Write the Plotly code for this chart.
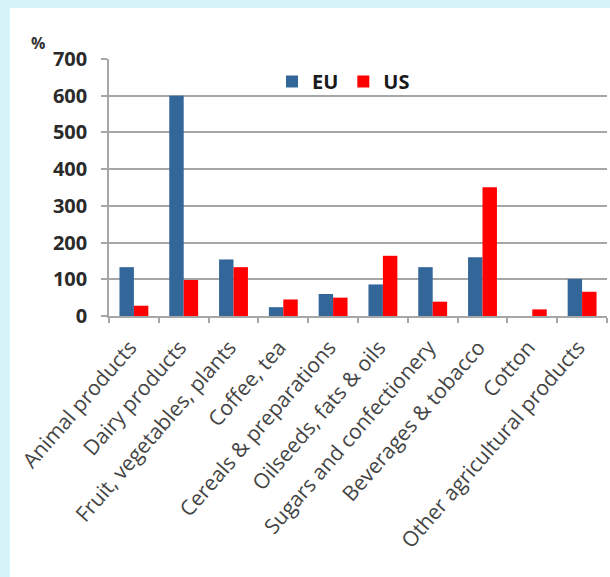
import plotly.graph_objects as go

categories = ["Animal products", "Dairy products", "Fruit, vegetables, plants", "Coffee, tea",
              "Cereals & preparations", "Oilseeds, fats & oils", "Sugars and confectionery",
              "Beverages & tobacco", "Cotton", "Other agricultural products"]
eu_values = [133, 600, 154, 24, 60, 86, 133, 160, 0, 101]
us_values = [28, 98, 133, 45, 50, 164, 39, 351, 18, 66]
y_ticks = [0, 100, 200, 300, 400, 500, 600, 700]

W, H = 610, 577
L, R, T, B = 109, 3, 59, 261
pw, ph = W - L - R, H - T - B

def px_x(p):
    return (p - L) / pw

def px_y(p):
    return (H - B - p) / ph

fig = go.Figure()
fig.add_bar(name="EU", x=categories, y=eu_values, marker_color="#336699", marker_line_width=0)
fig.add_bar(name="US", x=categories, y=us_values, marker_color="#ff0000", marker_line_width=0)

fig.update_layout(
    width=W, height=H,
    margin=dict(l=L, r=R, t=T, b=B, pad=0),
    paper_bgcolor="#d6f4f9",
    plot_bgcolor="rgba(0,0,0,0)",
    barmode="group",
    bargap=0.42,
    bargroupgap=0,
    showlegend=True,
    legend=dict(orientation="h", x=px_x(272), y=px_y(62), xanchor="left", yanchor="top",
                bgcolor="rgba(0,0,0,0)", font=dict(family="Open Sans", size=20, color="#1a1a1a", weight="bold"),
                itemwidth=30, traceorder="normal"),
    shapes=[dict(type="rect", xref="paper", yref="paper", x0=px_x(10), x1=px_x(620),
                 y0=px_y(590), y1=px_y(8), fillcolor="white", line_width=0, layer="below")],
    annotations=[dict(text="<b>%</b>", xref="paper", yref="paper", x=px_x(29), y=px_y(30),
                      xanchor="left", yanchor="top", showarrow=False,
                      font=dict(family="Open Sans", size=16, color="#333333"))],
    xaxis=dict(type="category", tickangle=-49, showgrid=False,
               showline=True, linecolor="#a6a6a6", linewidth=1.5,
               ticks="outside", tickson="boundaries", ticklen=5, tickcolor="#a6a6a6", tickwidth=1.5,
               tickfont=dict(family="Open Sans", size=21, color="#444444"),
               ticklabelshift=-4, ticklabelstandoff=9),
    yaxis=dict(range=[0, 700], tickvals=y_ticks, showgrid=True, gridcolor="#a6a6a6", gridwidth=1.5,
               showline=True, linecolor="#a6a6a6", linewidth=1.5, zeroline=False,
               ticks="outside", ticklen=6, tickcolor="#a6a6a6", tickwidth=1.5,
               tickfont=dict(family="Open Sans", size=20, color="#2a2a2a", weight="bold"),
               ticklabelstandoff=10),
)

fig.write_html("out.html")
